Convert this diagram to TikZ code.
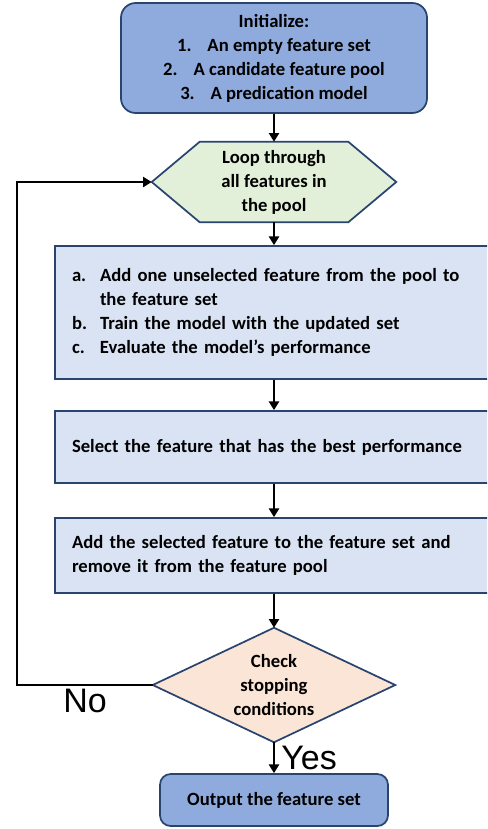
\documentclass[tikz,border=0pt]{standalone}
\usepackage{fontspec}
\setmainfont{Carlito}
\newfontfamily\arialfont{Liberation Sans}
\usetikzlibrary{arrows.meta,backgrounds}
\definecolor{initfill}{HTML}{8FAADC}
\definecolor{navy}{HTML}{2A4470}
\definecolor{stepfill}{HTML}{DAE3F3}
\definecolor{hexfill}{HTML}{E2F0D9}
\definecolor{diafill}{HTML}{FBE5D6}
\begin{document}
\begin{tikzpicture}[x=0.75pt,y=-0.75pt,
  txt/.style={font=\fontsize{14}{18}\selectfont\bfseries},
  initbox/.style={txt,draw=navy,line width=1.3pt,fill=initfill,rounded corners=11pt,
    align=center,minimum width=229.5pt,minimum height=82.5pt,inner sep=0pt},
  outbox/.style={txt,draw=navy,line width=1.3pt,fill=initfill,rounded corners=8pt,
    align=center,minimum width=171pt,minimum height=39pt,inner sep=0pt},
  stepbox/.style={txt,draw=navy,line width=1.3pt,fill=stepfill,align=left,
    text width=303pt,inner xsep=12.75pt,inner ysep=0pt},
  shapetext/.style={txt,align=center,inner sep=0pt},
  shapeline/.style={draw=navy,line width=1.3pt,line join=miter},
  edge/.style={draw=black,line width=1.7pt,-{Triangle[length=6.5pt,width=7.5pt]}},
  lbl/.style={font=\arialfont\fontsize{25.5}{30}\selectfont,inner sep=0pt}]
\useasboundingbox (0,0) rectangle (487,829);
\clip (0,0) rectangle (487,829);

\node[initbox] (init) at (274,58) {Initialize:\\
  1.\hspace{0.85em}An empty feature set\\
  2.\hspace{0.85em}A candidate feature pool\\
  3.\hspace{0.85em}A predication model};

\node[shapetext,minimum width=183pt,minimum height=60pt] (hex) at (274,182)
  {Loop through\\all features in\\the pool};

\node[stepbox,minimum height=99.75pt] (eval) at (274,312.5)
  {\begin{tabular}{@{}p{21pt}@{}l@{}}
   a. & Add one unselected feature from the pool to\\
      & the feature set\\
   b. & Train the model with the updated set\\
   c. & Evaluate the model’s performance
   \end{tabular}};

\node[stepbox,minimum height=54pt] (sel) at (274,447)
  {Select the feature that has the best performance};

\node[stepbox,minimum height=56.25pt] (add) at (274,555.5)
  {Add the selected feature to the feature set and\\remove it from the feature pool};

\node[shapetext,minimum width=181.5pt,minimum height=85.5pt] (chk) at (274,685)
  {Check\\stopping\\conditions};

\node[outbox] (out) at (274,800) {Output the feature set};

\begin{scope}[on background layer]
  \path[shapeline,fill=hexfill] (hex.west) -- ([xshift=36pt]hex.north west)
    -- ([xshift=-36pt]hex.north east) -- (hex.east)
    -- ([xshift=-36pt]hex.south east) -- ([xshift=36pt]hex.south west) -- cycle;
  \path[shapeline,fill=diafill] (chk.west) -- (chk.north) -- (chk.east)
    -- (chk.south) -- cycle;
\end{scope}

\coordinate (lp) at (17,685);

\draw[edge] (init.south) -- (hex.north);
\draw[edge] (hex.south) -- (eval.north);
\draw[edge] (eval.south) -- (sel.north);
\draw[edge] (sel.south) -- (add.north);
\draw[edge] (add.south) -- (chk.north);
\draw[edge] (chk.south) -- (out.north);
\draw[edge] (chk.west) -- (lp) |- (hex.west);

\node[lbl] (no) at (85,701) {No};
\node[lbl] (yes) at (309,758) {Yes};
\end{tikzpicture}
\end{document}
